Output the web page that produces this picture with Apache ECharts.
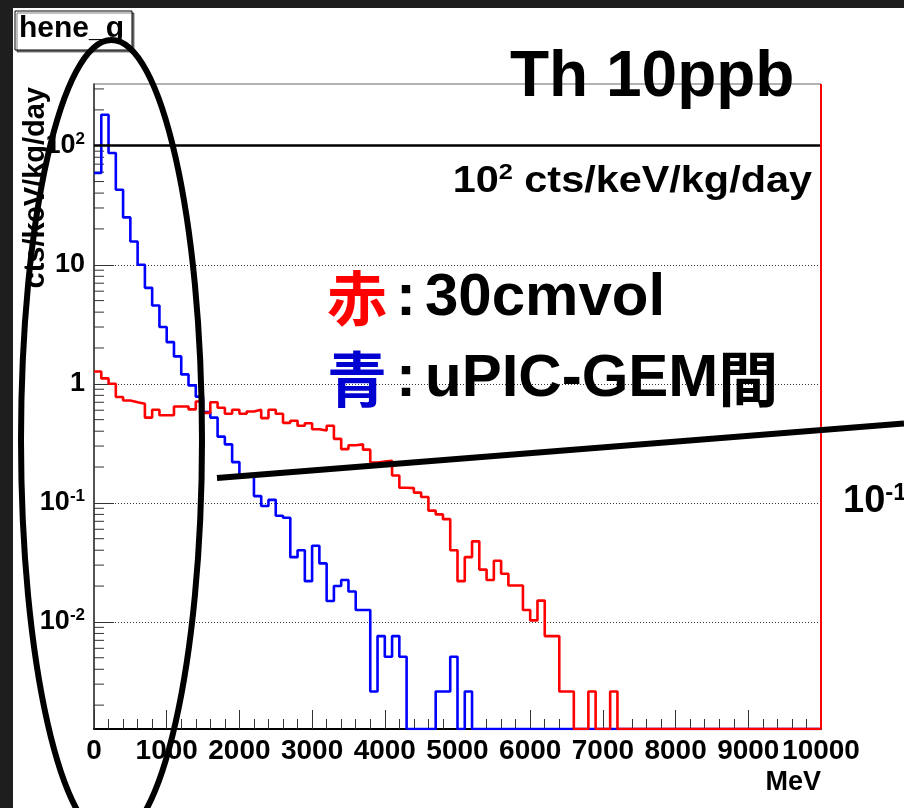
<!DOCTYPE html>
<html>
<head>
<meta charset="utf-8">
<title>hene_g</title>
<script src="https://cdn.jsdelivr.net/npm/echarts@6/dist/echarts.min.js"></script>
<style>
html,body{margin:0;padding:0;background:#fff;}
#main{width:904px;height:808px;}
</style>
</head>
<body>
<div id="main"></div>
<script>
// histogram, 100 bins of 100 MeV from 0 to 10000
var binWidth = 100;
// red: 30cmvol
var red30cm = [
  1.27, 1.11, 1.0, 0.775, 0.725, 0.70, 0.68, 0.52, 0.605, 0.545,
  0.545, 0.645, 0.645, 0.61, 0.71, 0.57, 0.70, 0.63, 0.56, 0.605,
  0.56, 0.585, 0.605, 0.515, 0.605, 0.56, 0.47, 0.49, 0.444, 0.467,
  0.415, 0.405, 0.444, 0.345, 0.283, 0.305, 0.31, 0.28, 0.218, 0.222,
  0.226, 0.17, 0.134, 0.133, 0.122, 0.112, 0.086, 0.08, 0.073, 0.04,
  0.022, 0.035, 0.0475, 0.0275, 0.0225, 0.0326, 0.0254, 0.0202, 0.0202, 0.0126,
  0.0103, 0.0151, 0.0076, 0.0076, 0.0026, 0.0026, 0, 0, 0.0026, 0,
  0, 0.0026, 0, 0, 0, 0, 0, 0, 0, 0,
  0, 0, 0, 0, 0, 0, 0, 0, 0, 0,
  0, 0, 0, 0, 0, 0, 0, 0, 0, 0
];
// blue: uPIC-GEM間
var blueGap = [
  59, 182, 87, 42.7, 25, 15.7, 10, 6.4, 4.55, 3.0,
  2.24, 1.7, 1.2, 0.97, 0.78, 0.58, 0.52, 0.36, 0.31, 0.22,
  0.17, 0.165, 0.114, 0.094, 0.106, 0.078, 0.075, 0.035, 0.040, 0.022,
  0.0436, 0.031, 0.015, 0.020, 0.0225, 0.018, 0.0126, 0.0126, 0.0026, 0.0076,
  0.0051, 0.0076, 0.0051, 0, 0, 0, 0, 0.0026, 0.0026, 0.0051,
  0, 0.0026, 0, 0, 0, 0, 0, 0, 0, 0,
  0, 0, 0, 0, 0, 0, 0, 0, 0, 0,
  0, 0, 0, 0, 0, 0, 0, 0, 0, 0,
  0, 0, 0, 0, 0, 0, 0, 0, 0, 0,
  0, 0, 0, 0, 0, 0, 0, 0, 0, 0
];
var yMin = 0.00126, yMax = 330;
var yMajor = [0.01, 0.1, 1, 10, 100];
var yMantissa = [2, 3, 4, 5, 6, 7, 8, 9];
var yDecades = [0.001, 0.01, 0.1, 1, 10, 100];
var refLevel = 100;   // 10^2 cts/keV/kg/day line

var FONT = "'Liberation Sans', Arial, Helvetica, sans-serif";
var CJK = "'Noto Sans CJK JP', 'Noto Sans CJK SC', sans-serif";

// zero bins sit on the bottom of the log axis, like ROOT does
function histPoints(vals){
	var pts = [];
	for (var i = 0; i < vals.length; i++) {
		pts.push([i * binWidth, vals[i] > 0 ? vals[i] : yMin]);
	}
	var last = vals[vals.length - 1];
	pts.push([vals.length * binWidth, last > 0 ? last : yMin]);
	return pts;
}

var minorTicks = [];
yDecades.forEach(function(d){
	yMantissa.forEach(function(m){
		var v = d * m;
		if (v >= yMin && v <= yMax) minorTicks.push([0, v]);
	});
});

function yLabel(v){
	var e = Math.round(Math.log10(v));
	if (Math.abs(Math.log10(v) - e) > 1e-6) return '';
	if (e === 0) return '{b|1}';
	if (e === 1) return '{b|10}';
	return '{b|10}{s|' + e + '}';
}

var option = {
	animation: false,
	backgroundColor: '#fff',
	grid: {left: 94, top: 84, width: 727, height: 645, containLabel: false, outerBoundsMode: 'none',
		show: true, borderColor: '#666', borderWidth: 1},
	xAxis: {
		type: 'value', min: 0, max: 10000, interval: 1000,
		axisLine: {onZero: false, lineStyle: {color: '#000', width: 2}},
		axisTick: {inside: true, length: 19, lineStyle: {color: '#333', width: 1}},
		minorTick: {show: true, splitNumber: 5, length: 10, lineStyle: {color: '#333', width: 1}},
		splitLine: {show: false},
		axisLabel: {fontFamily: FONT, fontWeight: 'bold', fontSize: 28, color: '#000', margin: 8,
			showMinLabel: true, showMaxLabel: true, hideOverlap: false,
			formatter: function(v){ return String(v); }},
		name: 'MeV', nameLocation: 'end', nameGap: 0,
		nameTextStyle: {fontFamily: FONT, fontWeight: 'bold', fontSize: 27, color: '#000',
			align: 'right', verticalAlign: 'top', padding: [40, 0, 0, 0]}
	},
	yAxis: {
		type: 'log', logBase: 10, min: yMin, max: yMax,
		axisLine: {show: true, lineStyle: {color: '#333', width: 1.5}},
		axisTick: {show: true, inside: true, length: 20, customValues: yMajor, lineStyle: {color: '#333', width: 1}},
		splitLine: {show: true, lineStyle: {color: '#333', type: [1, 2], width: 1}},
		axisLabel: {
			customValues: yMajor, formatter: yLabel, margin: 9, color: '#000',
			rich: {
				b: {fontFamily: FONT, fontWeight: 'bold', fontSize: 27, lineHeight: 30, color: '#000'},
				s: {fontFamily: FONT, fontWeight: 'bold', fontSize: 17, lineHeight: 17, verticalAlign: 'top', color: '#000'}
			}
		}
	},
	series: [
		{
			name: '青', type: 'line', step: 'end', symbol: 'none', z: 4,
			data: histPoints(blueGap),
			lineStyle: {color: '#0000ff', width: 2.6},
			markLine: {silent: true, symbol: 'none', label: {show: false},
				lineStyle: {color: '#000', width: 2.5, type: 'solid'},
				data: [{yAxis: refLevel}]}
		},
		{
			name: '赤', type: 'line', step: 'end', symbol: 'none', z: 5,
			data: histPoints(red30cm),
			lineStyle: {color: '#ff0000', width: 2.6},
			markLine: {silent: true, symbol: 'none', label: {show: false},
				lineStyle: {color: '#ff0000', width: 2, type: 'solid'},
				data: [{xAxis: 10000}]}
		},
		{
			// minor log ticks on the y axis
			type: 'custom', silent: true, z: 3,
			data: minorTicks,
			renderItem: function(params, api){
				var p = api.coord([0, api.value(1)]);
				return {type: 'line', shape: {x1: p[0], y1: p[1], x2: p[0] + 10, y2: p[1]},
					style: {stroke: '#333', lineWidth: 1}};
			}
		}
	],
	graphic: [
		{type: 'rect', z: 100, shape: {x: 0, y: 0, width: 904, height: 8}, style: {fill: '#1e1e1e'}},
		{type: 'rect', z: 100, shape: {x: 0, y: 0, width: 13, height: 808}, style: {fill: '#1e1e1e'}},
		{type: 'rect', z: 100, shape: {x: 15, y: 11, width: 117, height: 39},
			style: {fill: '#fff', stroke: '#000', lineWidth: 1, shadowColor: 'rgba(0,0,0,0.5)', shadowOffsetX: 2, shadowOffsetY: 2}},
		{type: 'text', z: 101, x: 19, y: 29,
			style: {text: 'hene_g', fill: '#000', font: 'bold 30px ' + FONT, verticalAlign: 'middle'}},
		// y axis title, reads bottom to top, ends near the top of the frame
		{type: 'text', z: 101, x: 36, y: 87, rotation: Math.PI / 2,
			style: {text: 'cts/keV/kg/day', fill: '#000', font: 'bold 29px ' + FONT, align: 'right', verticalAlign: 'middle'}},
		{type: 'text', z: 101, x: 510, y: 78,
			style: {text: 'Th 10ppb', fill: '#000', font: 'bold 64px ' + FONT, verticalAlign: 'middle'}},
		{type: 'text', z: 101, x: 812, y: 182, scaleX: 1.15,
			style: {text: '{b|10}{s|2}{b| cts/keV/kg/day}', align: 'right', verticalAlign: 'middle',
				rich: {
					b: {fill: '#000', fontFamily: FONT, fontWeight: 'bold', fontSize: 36, lineHeight: 40},
					s: {fill: '#000', fontFamily: FONT, fontWeight: 'bold', fontSize: 22, lineHeight: 22, verticalAlign: 'top'}
				}}},
		{type: 'text', z: 101, x: 327, y: 298,
			style: {text: '{r|赤}{c|:}{k|30cmvol}', verticalAlign: 'middle',
				rich: {
					r: {fill: '#ff0000', fontFamily: CJK, fontWeight: 'bold', fontSize: 60},
					c: {fill: '#000', fontFamily: FONT, fontWeight: 'bold', fontSize: 60, width: 38, align: 'center'},
					k: {fill: '#000', fontFamily: FONT, fontWeight: 'bold', fontSize: 60}
				}}},
		{type: 'text', z: 101, x: 327, y: 379,
			style: {text: '{r|青}{c|:}{k|uPIC-GEM}{j|間}', verticalAlign: 'middle',
				rich: {
					r: {fill: '#0000d0', fontFamily: CJK, fontWeight: 'bold', fontSize: 60},
					c: {fill: '#000', fontFamily: FONT, fontWeight: 'bold', fontSize: 60, width: 38, align: 'center'},
					k: {fill: '#000', fontFamily: FONT, fontWeight: 'bold', fontSize: 60},
					j: {fill: '#000', fontFamily: CJK, fontWeight: 'bold', fontSize: 60}
				}}},
		{type: 'text', z: 101, x: 843, y: 502,
			style: {text: '{b|10}{s|-1}', verticalAlign: 'middle',
				rich: {
					b: {fill: '#000', fontFamily: FONT, fontWeight: 'bold', fontSize: 38, lineHeight: 42},
					s: {fill: '#000', fontFamily: FONT, fontWeight: 'bold', fontSize: 24, lineHeight: 24, verticalAlign: 'top'}
				}}},
		{type: 'ellipse', z: 102, shape: {cx: 111.5, cy: 440, rx: 90.5, ry: 400},
			style: {fill: 'none', stroke: '#000', lineWidth: 6}},
		{type: 'line', z: 102, shape: {x1: 217, y1: 478, x2: 904, y2: 423.5},
			style: {stroke: '#000', lineWidth: 6}}
	]
};

//初始化echarts实例
var myChart = echarts.init(document.getElementById('main'));
myChart.setOption(option);
</script>
</body>
</html>
